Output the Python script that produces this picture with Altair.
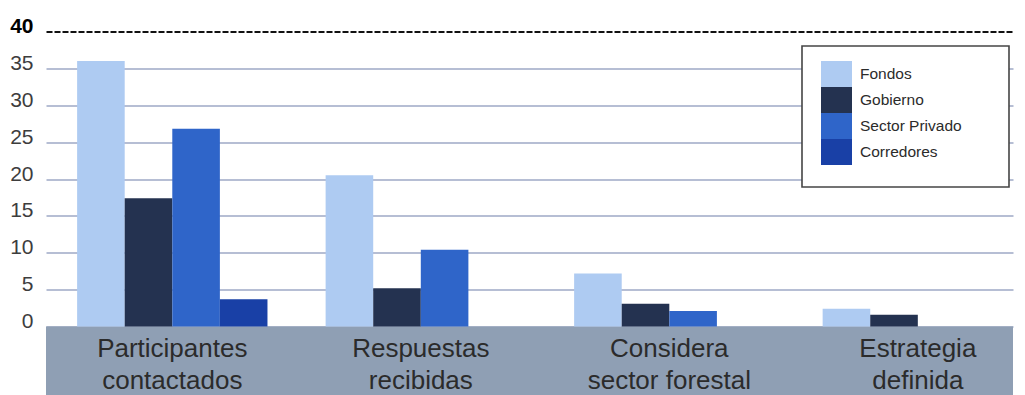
import altair as alt
import pandas as pd

# Survey results by stakeholder group
categories = [
    "Participantes contactados",
    "Respuestas recibidas",
    "Considera sector forestal",
    "Estrategia definida",
]
series = ["Fondos", "Gobierno", "Sector Privado", "Corredores"]
fondos = [36.0, 20.5, 7.2, 2.4]
gobierno = [17.4, 5.2, 3.1, 1.6]
sector_privado = [26.8, 10.4, 2.1, 0.0]
corredores = [3.7, 0.0, 0.0, 0.0]
y_ticks = [0, 5, 10, 15, 20, 25, 30, 35, 40]
series_colors = ["#aecbf2", "#243250", "#2f65c9", "#1940a6"]

rows = []
for name, values in zip(series, [fondos, gobierno, sector_privado, corredores]):
    for cat, v in zip(categories, values):
        rows.append({"categoria": cat, "grupo": name, "valor": v})
df = pd.DataFrame(rows)

W, H = 967, 295
is_top = "datum.value === 40"

# break each category name after its first word
split_expr = (
    "[substring(datum.label, 0, indexof(datum.label, ' ')), "
    "substring(datum.label, indexof(datum.label, ' ') + 1)]"
)

bars = alt.Chart(df).mark_bar(strokeWidth=0).encode(
    x=alt.X(
        "categoria:N",
        sort=categories,
        title=None,
        scale=alt.Scale(paddingInner=0.234, paddingOuter=0.0626, align=1),
        axis=alt.Axis(
            labelExpr=split_expr,
            labelAngle=0,
            labelAlign="center",
            labelBaseline="alphabetic",
            labelPadding=30,
            labelFontSize=26,
            labelLineHeight=32,
            labelColor="#2b2b2b",
            labelLimit=400,
            labelOverlap=False,
            ticks=False,
            tickSize=0,
            grid=False,
            domain=False,
            zindex=1,
        ),
    ),
    xOffset=alt.XOffset(
        "grupo:N", sort=series, scale=alt.Scale(paddingInner=0, paddingOuter=0)
    ),
    y=alt.Y(
        "valor:Q",
        title=None,
        scale=alt.Scale(domain=[0, 40], nice=False),
        axis=alt.Axis(
            values=y_ticks,
            domain=False,
            ticks=False,
            tickSize=0,
            grid=True,
            labelPadding=13,
            labelFontSize=21,
            labelOffset=-5,
            labelColor={"condition": {"test": is_top, "value": "#000000"}, "value": "#3d3d3d"},
            labelFontWeight={"condition": {"test": is_top, "value": "bold"}, "value": "normal"},
            gridColor={"condition": {"test": is_top, "value": "#111111"}, "value": "#9ea9c6"},
            gridDash={"condition": {"test": is_top, "value": [6, 2]}, "value": []},
            gridWidth={"condition": {"test": is_top, "value": 2}, "value": 1.5},
        ),
    ),
    color=alt.Color(
        "grupo:N",
        sort=series,
        scale=alt.Scale(domain=series, range=series_colors),
        legend=alt.Legend(
            title=None,
            orient="none",
            legendX=777.5,
            legendY=29.5,
            padding=0,
            # wide swatches, stacked edge to edge
            symbolType="M-1.192,-1H1.192V1H-1.192Z",
            symbolSize=676,
            symbolStrokeWidth=0,
            symbolOpacity=1,
            labelFontSize=15.5,
            labelColor="#2b2b2b",
            labelOffset=10.5,
            rowPadding=0,
        ),
    ),
)

# grey strip that carries the category labels under the baseline
strip = alt.Chart(pd.DataFrame({"franja": [0]})).mark_rect(
    fill="#8f9fb4", strokeWidth=0
).encode(
    x=alt.value(0), x2=alt.value(W), y=alt.value(H), y2=alt.value(H + 70)
)

# white framed box behind the legend entries
frame = alt.Chart(pd.DataFrame({"caja": [0]})).mark_rect(
    fill="white", stroke="#454545", strokeWidth=1.6
).encode(
    x=alt.value(756), x2=alt.value(963), y=alt.value(14.5), y2=alt.value(155.5)
)

chart = (
    alt.layer(strip, bars, frame)
    .properties(
        width=W,
        height=H,
        autosize=alt.AutoSizeParams(type="none"),
        padding={"left": 46, "top": 31.5, "right": 12, "bottom": 69},
    )
    .configure(font="Liberation Sans")
    .configure_view(stroke="transparent")
)

chart.save("out.html", embed_options={"renderer": "svg", "actions": False})
